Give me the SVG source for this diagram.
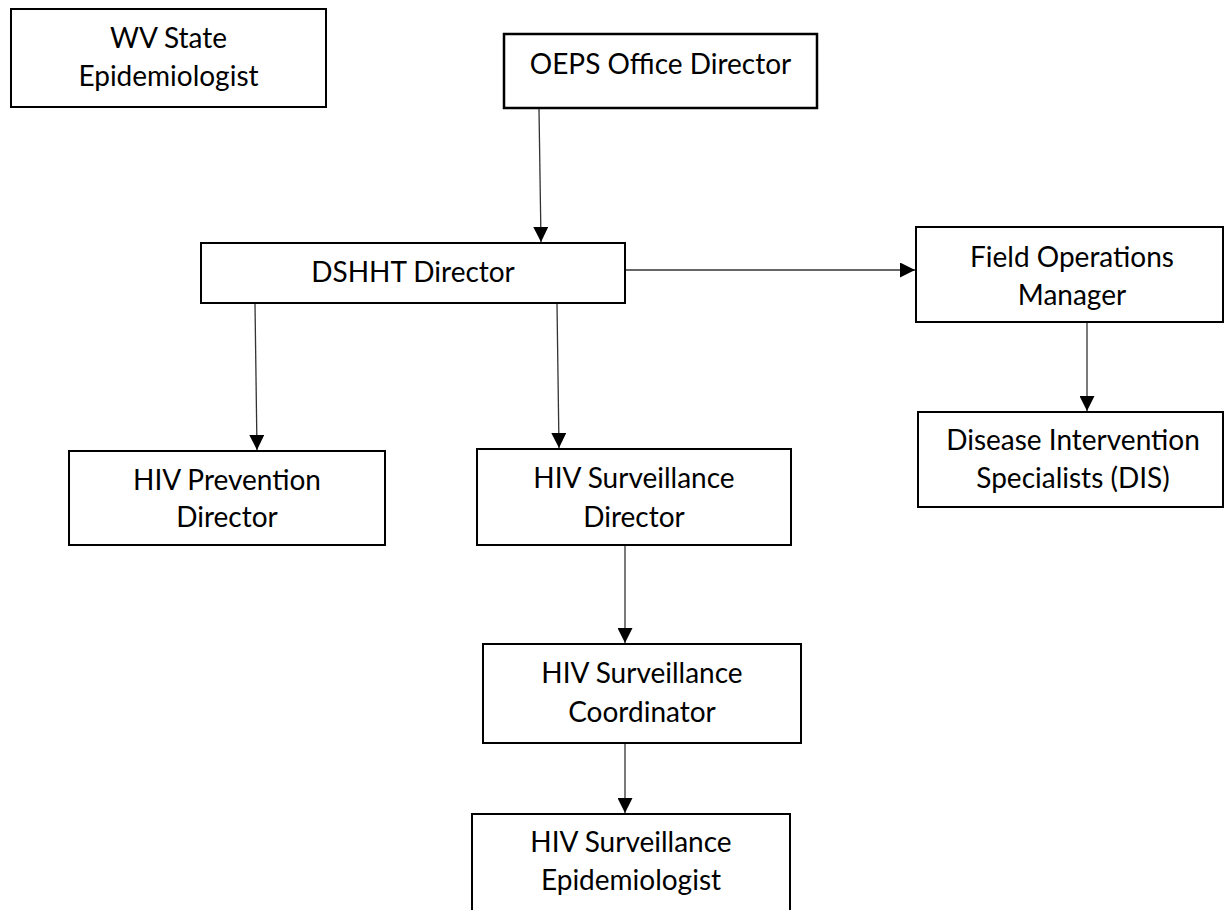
<svg xmlns="http://www.w3.org/2000/svg" width="1225" height="910" viewBox="0 0 1225 910">
<style>
.box{fill:#fff;stroke:#000;stroke-width:2}
.thick{stroke-width:2.5}
.lbl{font-family:Lato,"Open Sans","Liberation Sans",sans-serif;font-size:28px;fill:#000;text-anchor:middle}
.conn{stroke:#333;stroke-width:1.3;fill:none;marker-end:url(#ah)}
</style>
<defs>
<marker id="ah" markerUnits="userSpaceOnUse" markerWidth="15" markerHeight="15" refX="15" refY="7.5" orient="auto" viewBox="0 0 15 15">
<path d="M0,0 L15,7.5 L0,15 z" fill="#000"/>
</marker>
</defs>
<rect width="1225" height="910" fill="#fff"/>
<g id="connectors">
<line class="conn" x1="539" y1="109" x2="541" y2="242"/>
<line class="conn" x1="255" y1="304" x2="257" y2="450"/>
<line class="conn" x1="557" y1="304" x2="559" y2="448"/>
<line class="conn" x1="626" y1="270" x2="915" y2="270"/>
<line class="conn" x1="1087" y1="323" x2="1087" y2="411"/>
<line class="conn" x1="625" y1="546" x2="625" y2="643"/>
<line class="conn" x1="625" y1="744" x2="625" y2="813"/>
</g>
<g id="wv-state-epidemiologist">
<rect class="box" x="11" y="9" width="315" height="98"/>
<text class="lbl" x="168.5" y="48">WV State</text>
<text class="lbl" x="168.5" y="86">Epidemiologist</text>
</g>
<g id="oeps-office-director">
<rect class="box thick" x="504" y="34" width="313" height="74"/>
<text class="lbl" x="660.5" y="74">OEPS Office Director</text>
</g>
<g id="dshht-director">
<rect class="box" x="201" y="243" width="424" height="60"/>
<text class="lbl" x="413" y="282">DSHHT Director</text>
</g>
<g id="field-operations-manager">
<rect class="box" x="916" y="227" width="307" height="95"/>
<text class="lbl" x="1072" y="267">Field Operations</text>
<text class="lbl" x="1072" y="305">Manager</text>
</g>
<g id="disease-intervention-specialists">
<rect class="box" x="918" y="412" width="305" height="95"/>
<text class="lbl" x="1073" y="450">Disease Intervention</text>
<text class="lbl" x="1073" y="488">Specialists (DIS)</text>
</g>
<g id="hiv-prevention-director">
<rect class="box" x="69" y="451" width="316" height="94"/>
<text class="lbl" x="227" y="490">HIV Prevention</text>
<text class="lbl" x="227" y="527">Director</text>
</g>
<g id="hiv-surveillance-director">
<rect class="box" x="477" y="449" width="314" height="96"/>
<text class="lbl" x="634" y="488">HIV Surveillance</text>
<text class="lbl" x="634" y="527">Director</text>
</g>
<g id="hiv-surveillance-coordinator">
<rect class="box" x="483" y="644" width="318" height="99"/>
<text class="lbl" x="642" y="683">HIV Surveillance</text>
<text class="lbl" x="642" y="722">Coordinator</text>
</g>
<g id="hiv-surveillance-epidemiologist">
<rect class="box" x="472" y="814" width="318" height="110"/>
<text class="lbl" x="631" y="852">HIV Surveillance</text>
<text class="lbl" x="631" y="890">Epidemiologist</text>
</g>
</svg>
